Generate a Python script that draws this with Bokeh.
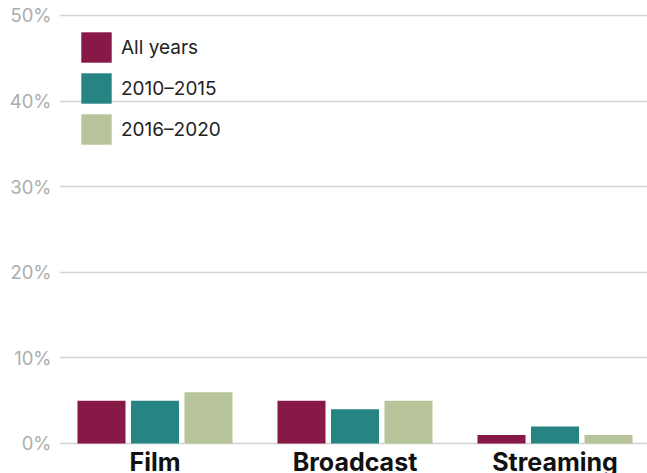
from bokeh.plotting import figure
from bokeh.models import ColumnDataSource, Range1d, FactorRange, FixedTicker, PrintfTickFormatter, Legend, LegendItem
from bokeh.transform import dodge
from bokeh.core.properties import value
from bokeh.embed import file_html
from bokeh.resources import INLINE

categories = ["Film", "Broadcast", "Streaming"]
all_years = [5, 5, 1]
y2010_2015 = [5, 4, 2]
y2016_2020 = [6, 5, 1]
series_labels = ["All years", "2010\u20132015", "2016\u20132020"]
colors = ["#881845", "#268582", "#B7C398"]
y_ticks = [0, 10, 20, 30, 40, 50]

FONT = "Inter"

source = ColumnDataSource(data=dict(cats=categories, a=all_years, b=y2010_2015, c=y2016_2020))

p = figure(
    width=647, height=473,
    x_range=FactorRange(factors=categories, range_padding=-0.02, range_padding_units="percent"),
    y_range=Range1d(-3.505, 50.584),
    x_axis_location=None,
    output_backend="svg", toolbar_location=None,
    min_border_left=59, min_border_right=0, min_border_top=10, min_border_bottom=0,
)
p.outline_line_color = None
p.background_fill_color = "white"

shift = 0.0075
offsets = [-0.2675 + shift, shift, 0.2675 + shift]
cols = ["a", "b", "c"]
renderers = []
for col, off, colr in zip(cols, offsets, colors):
    r = p.vbar(x=dodge("cats", off, range=p.x_range), top=col, bottom=0, width=0.24,
               source=source, fill_color=colr, line_color=None)
    renderers.append(r)

p.text(x=dodge("cats", shift, range=p.x_range), y=0, text="cats", source=source,
       text_font=value(FONT), text_font_size="25px", text_font_style="bold",
       text_color="#111111", text_align="center", text_baseline="top", y_offset=4)

p.xgrid.visible = False
p.ygrid.ticker = FixedTicker(ticks=y_ticks)
p.ygrid.grid_line_color = "#d4d4d4"
p.ygrid.grid_line_width = 1.5

yax = p.yaxis[0]
yax.ticker = FixedTicker(ticks=y_ticks)
yax.formatter = PrintfTickFormatter(format="%d%%")
yax.axis_line_color = None
yax.major_tick_line_color = None
yax.minor_tick_line_color = None
yax.major_label_text_font = FONT
yax.major_label_text_font_size = "18.5px"
yax.major_label_text_color = "#adadad"
yax.major_label_standoff = 2

items = [LegendItem(label=lab, renderers=[r]) for lab, r in zip(series_labels, renderers)]
legend = Legend(items=items, location="top_left")
legend.glyph_width = 38
legend.glyph_height = 38
legend.label_height = 38
legend.spacing = 3
legend.padding = 0
legend.margin = 18
legend.label_standoff = 6
legend.label_text_font = FONT
legend.label_text_font_size = "19px"
legend.label_text_color = "#222222"
legend.border_line_color = None
legend.background_fill_alpha = 0
p.add_layout(legend, "center")

open("out.html", "w").write(file_html(p, INLINE))
